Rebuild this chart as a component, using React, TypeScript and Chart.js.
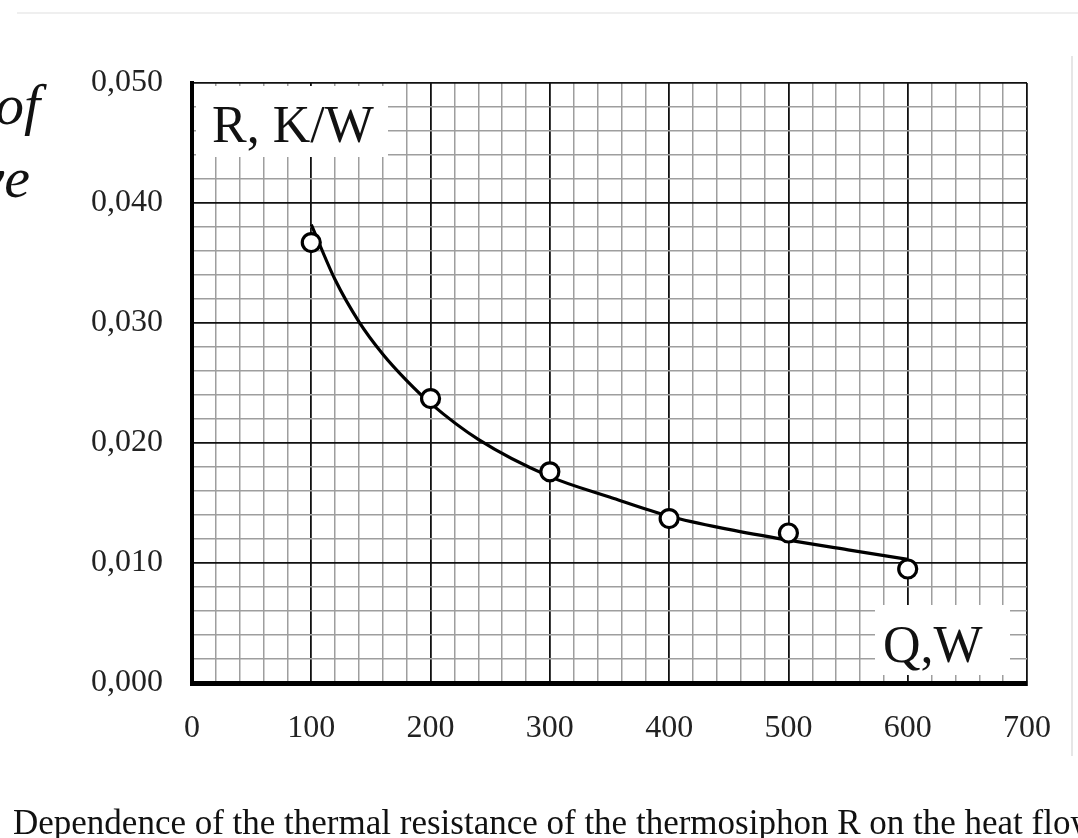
import React, { useEffect, useRef } from 'react';
import { Chart, registerables } from 'chart.js';

Chart.register(...registerables);

// Measured points (open circles)
const pointQ = [100, 200, 300, 400, 500, 600];
const pointR = [0.0367, 0.0237, 0.0176, 0.0137, 0.0125, 0.0095];

// Fitted curve
const curveQ = [100, 120, 140, 160, 180, 200, 240, 300, 350, 400, 450, 500, 550, 600];
const curveR = [0.0382, 0.0336, 0.0301, 0.0274, 0.0252, 0.0233, 0.0203, 0.0172, 0.0155, 0.0139, 0.0128, 0.0119, 0.0111, 0.0103];

const xMin = 0;
const xMax = 700;
const xMajor = 100;
const xMinor = 20;
const yMin = 0;
const yMax = 0.05;
const yMajor = 0.01;
const yMinor = 0.002;

const yTitle = 'R, K/W';
const xTitle = 'Q,W';
const caption = 'Dependence of the thermal resistance of the thermosiphon R on the heat flow';
const sideText1 = 'of';
const sideText2 = 've';

const SERIF = '"Liberation Serif", "Times New Roman", serif';

const isMajor = (v: number, step: number) => Math.abs(v / step - Math.round(v / step)) < 1e-6;

const titlesPlugin = {
  id: 'titlesPlugin',
  beforeDatasetsDraw(chart: any) {
    const { ctx, chartArea: a } = chart;
    ctx.save();
    ctx.fillStyle = '#ffffff';
    ctx.fillRect(a.left + 4, a.top + 3, 192, 71);
    ctx.fillRect(a.right - 152, a.bottom - 78, 135, 70);
    ctx.fillStyle = '#111111';
    ctx.font = '52px ' + SERIF;
    ctx.textBaseline = 'alphabetic';
    ctx.textAlign = 'left';
    ctx.fillText(yTitle, a.left + 20, a.top + 59);
    ctx.fillText(xTitle, a.right - 144, a.bottom - 21);
    ctx.restore();
  },
};

export default function App() {
  const ref = useRef<HTMLCanvasElement>(null);

  useEffect(() => {
    if (!ref.current) return;
    const chart = new Chart(ref.current, {
      type: 'scatter',
      data: {
        datasets: [
          {
            label: 'points',
            data: pointQ.map((q, i) => ({ x: q, y: pointR[i] })),
            showLine: false,
            pointRadius: 9,
            pointBorderWidth: 3.2,
            pointBorderColor: '#000',
            pointBackgroundColor: '#fff',
          },
          {
            label: 'curve',
            data: curveQ.map((q, i) => ({ x: q, y: curveR[i] })),
            showLine: true,
            pointRadius: 0,
            borderColor: '#000',
            borderWidth: 3.2,
            cubicInterpolationMode: 'monotone',
            fill: false,
          },
        ],
      },
      options: {
        responsive: false,
        animation: false,
        devicePixelRatio: 1,
        layout: { padding: { left: 0, top: 83, right: 51, bottom: 0 } },
        plugins: { legend: { display: false }, tooltip: { enabled: false } },
        scales: {
          x: {
            type: 'linear',
            min: xMin,
            max: xMax,
            afterFit: (s: any) => { s.height = 155; },
            ticks: {
              stepSize: xMinor,
              autoSkip: false,
              maxRotation: 0,
              padding: 26,
              color: '#222',
              font: { family: SERIF, size: 32 },
              callback: (v: any) => (isMajor(Number(v), xMajor) ? String(Math.round(Number(v))) : ''),
            },
            grid: {
              drawTicks: false,
              color: (c: any) => (c.tick && isMajor(c.tick.value, xMajor) ? '#111' : '#9e9e9e'),
              lineWidth: (c: any) => (c.tick && isMajor(c.tick.value, xMajor) ? 1.8 : 1.5),
            },
            border: { width: 5, color: '#000' },
          },
          y: {
            type: 'linear',
            min: yMin,
            max: yMax,
            afterFit: (s: any) => { s.width = 192; },
            ticks: {
              stepSize: yMinor,
              autoSkip: false,
              padding: 29,
              color: '#222',
              font: { family: SERIF, size: 32 },
              callback: (v: any) => (isMajor(Number(v), yMajor) ? Number(v).toFixed(3).replace('.', ',') : ''),
            },
            grid: {
              drawTicks: false,
              color: (c: any) => (c.tick && isMajor(c.tick.value, yMajor) ? '#111' : '#9e9e9e'),
              lineWidth: (c: any) => (c.tick && isMajor(c.tick.value, yMajor) ? 1.8 : 1.5),
            },
            border: { width: 4, color: '#000' },
          },
        },
      },
      plugins: [titlesPlugin],
    } as any);
    return () => chart.destroy();
  }, []);

  return (
    <div style={{ position: 'absolute', left: 0, top: 0, width: 1078, height: 838, overflow: 'hidden', background: '#fff' }}>
      <div style={{ position: 'absolute', left: 17, right: 0, top: 12, height: 2, background: '#efefef' }} />
      <div style={{ position: 'absolute', left: 1071, top: 56, width: 2, height: 700, background: '#e6e6e6' }} />
      <canvas ref={ref} width={1078} height={838} style={{ position: 'absolute', left: 0, top: 0, width: 1078, height: 838 }} />
      <div style={{ position: 'absolute', right: 1038, top: 76, fontFamily: SERIF, fontStyle: 'italic', fontSize: 58, lineHeight: 1, whiteSpace: 'nowrap', color: '#111' }}>{sideText1}</div>
      <div style={{ position: 'absolute', right: 1048, top: 149, fontFamily: SERIF, fontStyle: 'italic', fontSize: 58, lineHeight: 1, whiteSpace: 'nowrap', color: '#111' }}>{sideText2}</div>
      <div style={{ position: 'absolute', left: 13, top: 805, fontFamily: SERIF, fontSize: 35, lineHeight: 1, whiteSpace: 'nowrap', color: '#111' }}>{caption}</div>
    </div>
  );
}
